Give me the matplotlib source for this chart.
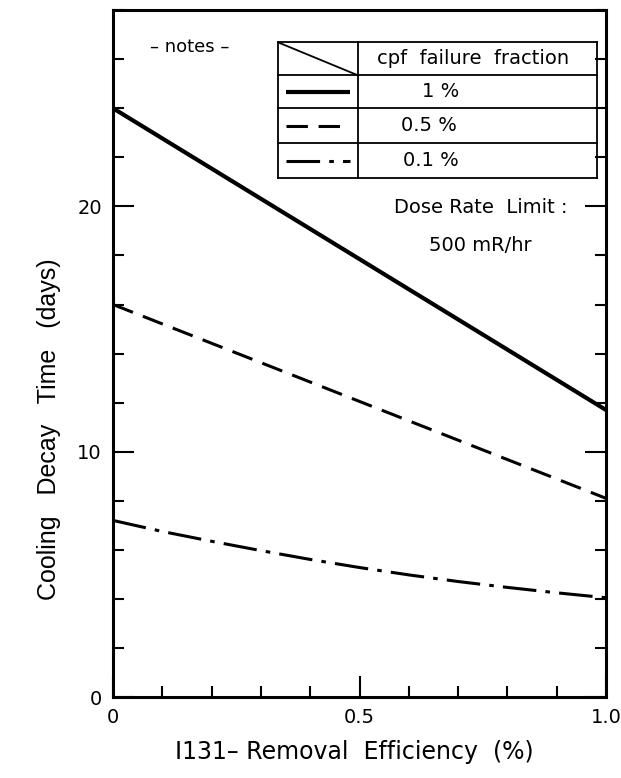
import matplotlib.pyplot as plt
from matplotlib.ticker import MultipleLocator

# values
efficiency = [0.0, 0.5, 1.0]
decay_1pct = [24.0, 17.85, 11.7]
decay_05pct = [16.0, 12.05, 8.1]
eff_01 = [0.0, 0.1, 0.2, 0.3, 0.4, 0.5, 0.6, 0.7, 0.8, 0.9, 1.0]
decay_01pct = [7.2, 6.75, 6.35, 5.97, 5.61, 5.28, 4.98, 4.71, 4.47, 4.25, 4.05]
fraction_labels = ["1 %", "0.5 %", "0.1 %"]

plt.rcParams["font.family"] = ["DejaVu Sans"]

fig = plt.figure(figsize=(6.21, 7.78), dpi=100)
ax = fig.add_axes([0.182, 0.104, 0.794, 0.883])

styles = [
    dict(color="black", lw=3.0, linestyle="-"),
    dict(color="black", lw=2.2, dashes=(7, 3.5)),
    dict(color="black", lw=2.2, dashes=(11, 3, 1.5, 3)),
]
series = [(efficiency, decay_1pct), (efficiency, decay_05pct), (eff_01, decay_01pct)]
for (xs, ys), st in zip(series, styles):
    ax.plot(xs, ys, solid_capstyle="butt", dash_capstyle="butt", **st)

ax.set_xlim(0, 1.0)
ax.set_ylim(0, 28)

ax.xaxis.set_minor_locator(MultipleLocator(0.1))
ax.yaxis.set_minor_locator(MultipleLocator(2))
ax.set_xticks([0, 0.5, 1.0])
ax.set_xticklabels(["0", "0.5", "1.0"])
ax.set_yticks([0, 10, 20])
ax.set_yticklabels(["0", "10", "20"])

ax.tick_params(axis="both", which="both", direction="in", width=1.5,
               labelsize=14, colors="black")
ax.tick_params(axis="both", which="major", length=15)
ax.tick_params(axis="both", which="minor", length=8)
ax.tick_params(axis="y", which="both", right=True)
ax.tick_params(axis="x", pad=8)
ax.tick_params(axis="y", pad=8)

for sp in ax.spines.values():
    sp.set_linewidth(2.2)

ax.set_xlabel("I131\u2013 Removal  Efficiency  (%)", fontsize=17)
ax.xaxis.set_label_coords(0.49, -0.063)
ax.set_ylabel("Cooling   Decay   Time   (days)", fontsize=18,
              family=["Liberation Sans", "DejaVu Sans"])
ax.yaxis.set_label_coords(-0.105, 0.39)

# legend drawn as a table, in axes coordinates
tl, tdiv, tr = 0.335, 0.497, 0.982
rows = [0.953, 0.905, 0.857, 0.806, 0.755]
tk = dict(transform=ax.transAxes, color="black", lw=1.3)
for yv in rows:
    ax.plot([tl, tr], [yv, yv], **tk)
ax.plot([tl, tl], [rows[0], rows[-1]], **tk)
ax.plot([tr, tr], [rows[0], rows[-1]], **tk)
ax.plot([tdiv, tdiv], [rows[0], rows[-1]], **tk)
ax.plot([tl, tdiv], [rows[0], rows[1]], **tk)

ax.text((tdiv + tr) / 2 - 0.01, (rows[0] + rows[1]) / 2, "cpf  failure  fraction",
        transform=ax.transAxes, ha="center", va="center", fontsize=14)
label_x = [0.665, 0.64, 0.645]
for i, (lab, st) in enumerate(zip(fraction_labels, styles)):
    yc = (rows[i + 1] + rows[i + 2]) / 2
    ax.plot([0.35, 0.48], [yc, yc], transform=ax.transAxes,
            solid_capstyle="butt", dash_capstyle="butt", **st)
    ax.text(label_x[i], yc, lab, transform=ax.transAxes,
            ha="center", va="center", fontsize=14)

ax.text(0.156, 0.946, "\u2013 notes \u2013", transform=ax.transAxes,
        ha="center", va="center", fontsize=13)
ax.text(0.746, 0.712, "Dose Rate  Limit :", transform=ax.transAxes,
        ha="center", va="center", fontsize=14)
ax.text(0.745, 0.658, "500 mR/hr", transform=ax.transAxes,
        ha="center", va="center", fontsize=14)

fig.savefig("out.png", dpi=100)
